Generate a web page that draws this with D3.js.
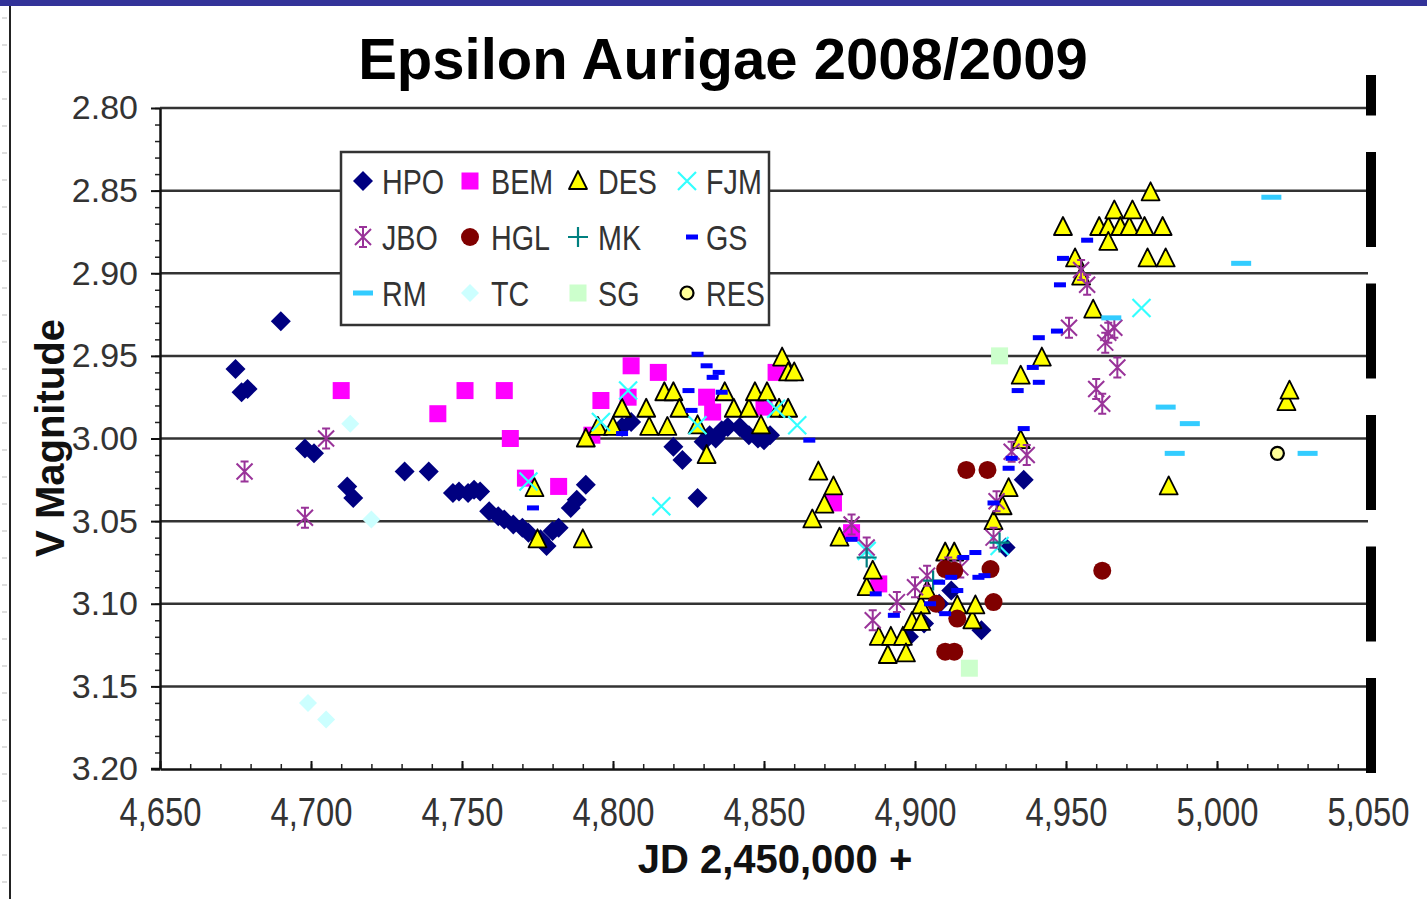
<!DOCTYPE html>
<html><head><meta charset="utf-8">
<script src="https://cdn.jsdelivr.net/npm/d3@7"></script>
<style>html,body{margin:0;padding:0;background:#fff;overflow:hidden}</style>
</head><body>
<svg id="chart" width="1427" height="899"></svg>
<script>
// ---------- data ----------
const chartTitle = "Epsilon Aurigae 2008/2009";
const xAxisTitle = "JD 2,450,000 +";
const yAxisTitle = "V Magnitude";
const xTickValues = [4650, 4700, 4750, 4800, 4850, 4900, 4950, 5000, 5050];
const yTickValues = [2.80, 2.85, 2.90, 2.95, 3.00, 3.05, 3.10, 3.15, 3.20];

const HPO = [[4675,2.958],[4677,2.972],[4679,2.970],[4690,2.929],[4698,3.006],[4701,3.009],[4712,3.029],[4714,3.036],[4731,3.020],[4739,3.020],
  [4747,3.033],[4749,3.032],[4752,3.033],[4754,3.031],[4756,3.032],[4759,3.044],[4762,3.047],[4764,3.049],[4767,3.052],[4770,3.054],[4772,3.057],[4776,3.061],[4778,3.065],[4780,3.056],[4782,3.054],[4786,3.042],[4788,3.037],[4791,3.028],
  [4803,2.993],[4806,2.990],[4820,3.005],[4823,3.013],[4828,3.036],[4830,3.002],[4832,2.998],[4834,3.000],[4836,2.995],[4838,2.993],[4842,2.993],[4845,2.998],[4848,3.000],[4850,3.001],[4852,2.998],
  [4898,3.120],[4903,3.112],[4908,3.100],[4912,3.092],[4922,3.116],[4930,3.066],[4936,3.025]];
const BEM = [[4710,2.971],[4742,2.985],[4751,2.971],[4764,2.971],[4766,3.000],[4771,3.024],[4782,3.029],[4793,2.998],[4796,2.977],[4805,2.975],[4806,2.956],[4815,2.960],[4831,2.975],[4833,2.984],[4850,2.981],[4854,2.960],[4873,3.039],[4879,3.057],[4888,3.088]];
const DES = [[4774,3.030],[4775,3.061],[4790,3.061],
  [4791,3.000],[4795,2.993],[4800,2.993],[4803,2.982],[4811,2.982],[4812,2.993],[4817,2.972],[4818,2.993],[4820,2.972],[4822,2.982],[4828,2.992],[4831,3.010],[4837,2.972],[4840,2.982],[4845,2.982],[4847,2.972],[4849,2.992],[4851,2.972],[4855,2.982],[4856,2.951],[4858,2.960],[4858,2.982],[4860,2.960],
  [4866,3.049],[4868,3.020],[4870,3.040],[4873,3.029],[4875,3.060],[4884,3.090],[4886,3.080],[4888,3.120],[4891,3.131],[4892,3.120],[4896,3.120],[4897,3.130],[4899,3.111],[4902,3.101],[4902,3.111],[4904,3.092],[4910,3.069],[4913,3.069],[4914,3.101],[4919,3.110],[4920,3.101],
  [4926,3.050],[4929,3.041],[4931,3.030],[4935,3.001],[4935,2.962],[4942,2.951],[4949,2.872],[4953,2.891],[4955,2.902],[4959,2.922],[4961,2.872],[4964,2.872],[4964,2.881],[4966,2.862],[4968,2.872],[4971,2.872],[4972,2.862],[4976,2.872],[4977,2.891],[4978,2.851],[4982,2.872],[4983,2.891],[4984,3.029],[5023,2.978],[5024,2.971]];
const FJM = [[4772,3.026],[4796,2.990],[4805,2.971],[4816,3.041],[4828,2.992],[4854,2.982],[4861,2.992],[4884,3.068],[4928,3.065],[4975,2.921]];
const JBO = [[4678,3.020],[4698,3.048],[4705,3.000],[4879,3.052],[4884,3.066],[4886,3.110],[4894,3.099],[4900,3.090],[4904,3.083],[4911,3.078],[4915,3.078],[4926,3.060],[4927,3.038],[4932,3.008],[4937,3.010],
  [4951,2.933],[4955,2.898],[4957,2.907],[4960,2.970],[4962,2.979],[4963,2.942],[4964,2.936],[4966,2.933],[4967,2.957]];
const HGL = [[4907,3.100],[4910,3.079],[4910,3.129],[4913,3.080],[4913,3.129],[4914,3.109],[4917,3.019],[4924,3.019],[4925,3.079],[4926,3.099],[4962,3.080]];
const MK = [[4884,3.072],[4906,3.086],[4928,3.063]];
const GS = [[4773.5,3.042],[4803,2.997],[4825,2.971],[4826,2.983],[4828,2.949],[4831,2.956],[4833,2.963],[4835,2.960],[4836,2.972],[4865,3.001],[4879,3.061],[4887,3.094],[4893,3.107],[4905,3.100],[4908,3.087],[4910,3.106],[4912,3.084],[4914,3.092],[4916,3.072],[4920,3.069],[4921,3.084],[4923,3.083],[4926,3.039],[4931,3.018],[4932,3.012],[4934,2.971],[4936,2.994],[4939,2.957],[4941,2.966],[4941,2.939],[4947,2.935],[4948,2.907],[4949,2.891],[4957,2.880]];
const RM = [[4965,2.927],[4983,2.981],[4986,3.009],[4991,2.991],[5008,2.894],[5018,2.854],[5030,3.009]];
const TC = [[4699,3.160],[4705,3.170],[4713,2.991],[4720,3.049]];
const SG = [[4918,3.139],[4928,2.950]];
const RES = [[5020,3.009]];

const seriesNames = ["HPO","BEM","DES","FJM","JBO","HGL","MK","GS","RM","TC","SG","RES"];
const seriesData = {HPO, BEM, DES, FJM, JBO, HGL, MK, GS, RM, TC, SG, RES};

// ---------- styling ----------
const styles = {
  HPO: {shape:"diamond", fill:"#000080", r:10},
  BEM: {shape:"square", fill:"#ff00ff", r:8.5},
  DES: {shape:"triangle", fill:"#ffff00", stroke:"#000"},
  FJM: {shape:"cross", stroke:"#33ffff"},
  JBO: {shape:"star", stroke:"#993399"},
  HGL: {shape:"circle", fill:"#800000", r:9},
  MK:  {shape:"plus", stroke:"#008080"},
  GS:  {shape:"dash", fill:"#0000ff", w:12, h:5},
  RM:  {shape:"dash", fill:"#33ccff", w:20, h:5},
  TC:  {shape:"diamond", fill:"#ccffff", r:9},
  SG:  {shape:"square", fill:"#ccffcc", r:8.5},
  RES: {shape:"circle", fill:"#ffff99", stroke:"#000", r:6.5}
};

const W = 1427, H = 899;
const svg = d3.select("#chart");
const x = d3.scaleLinear().domain([4650, 5050]).range([160, 1368]);
const y = d3.scaleLinear().domain([2.80, 3.20]).range([108, 769]);

function drawMarker(g, key) {
  const s = styles[key];
  switch (s.shape) {
    case "diamond":
      g.append("path").attr("d", `M0,${-s.r}L${s.r},0L0,${s.r}L${-s.r},0Z`).attr("fill", s.fill); break;
    case "square":
      g.append("rect").attr("x", -s.r).attr("y", -s.r).attr("width", 2*s.r).attr("height", 2*s.r).attr("fill", s.fill); break;
    case "triangle":
      g.append("path").attr("d", "M0,-10L9,8L-9,8Z").attr("fill", s.fill).attr("stroke", s.stroke).attr("stroke-width", 1.8).attr("stroke-linejoin","round"); break;
    case "cross":
      g.append("path").attr("d", "M-9,-9L9,9M-9,9L9,-9").attr("stroke", s.stroke).attr("stroke-width", 2.2).attr("fill","none"); break;
    case "star":
      g.append("path").attr("d", "M0,-11L0,11M-8,-8L8,8M-8,8L8,-8M-4,-10L4,-10M-4,10L4,10").attr("stroke", s.stroke).attr("stroke-width", 2).attr("fill","none"); break;
    case "plus":
      g.append("path").attr("d", "M0,-10L0,10M-10,0L10,0").attr("stroke", s.stroke).attr("stroke-width", 2.2).attr("fill","none"); break;
    case "circle":
      g.append("circle").attr("r", s.r).attr("fill", s.fill).attr("stroke", s.stroke || "none").attr("stroke-width", 2.2); break;
    case "dash":
      g.append("rect").attr("x", -s.w/2).attr("y", -s.h/2).attr("width", s.w).attr("height", s.h).attr("fill", s.fill); break;
  }
}

// top band and slide frame
svg.append("rect").attr("x",0).attr("y",0).attr("width",W).attr("height",6).attr("fill","#333399");
svg.append("line").attr("x1",10).attr("x2",10).attr("y1",6).attr("y2",H).attr("stroke","#222").attr("stroke-width",2);
svg.append("g").selectAll("line").data(d3.range(18, H, 27)).join("line")
  .attr("x1",2).attr("x2",7).attr("y1",d=>d).attr("y2",d=>d).attr("stroke","#bbb").attr("stroke-width",1);

// title
svg.append("text").attr("x",723).attr("y",79).attr("text-anchor","middle")
  .attr("font-family","'Liberation Sans', Arial, sans-serif").attr("font-weight","bold").attr("font-size",58)
  .attr("fill","#000").text(chartTitle);

// gridlines
svg.append("g").selectAll("line").data(yTickValues.slice(0, -1)).join("line")
  .attr("x1",160).attr("x2",1368).attr("y1",d=>y(d)).attr("y2",d=>y(d))
  .attr("stroke","#333").attr("stroke-width",2.5);

// y axis
const yMinor = d3.range(0, 41).map(i => 2.80 + i*0.01);
svg.append("g").attr("transform","translate(160,0)")
  .call(d3.axisLeft(y).tickValues(yMinor).tickSize(5).tickFormat(""))
  .call(g => g.select(".domain").remove())
  .call(g => g.selectAll("line").attr("stroke","#222").attr("stroke-width",1.5));
const yAxisG = svg.append("g").attr("transform","translate(160,0)")
  .call(d3.axisLeft(y).tickValues(yTickValues).tickSize(9).tickSizeOuter(0).tickPadding(13).tickFormat(d3.format(".2f")));
yAxisG.select(".domain").attr("stroke","#111").attr("stroke-width",2.5);
yAxisG.selectAll(".tick line").attr("stroke","#111").attr("stroke-width",2);
yAxisG.selectAll(".tick text").attr("font-family","'Liberation Sans', Arial, sans-serif").attr("font-size",34).attr("fill","#333");

// x axis
const xMinor = d3.range(4650, 5051, 10);
svg.append("g").attr("transform","translate(0,769)")
  .call(d3.axisBottom(x).tickValues(xMinor).tickSize(-5).tickFormat(""))
  .call(g => g.select(".domain").remove())
  .call(g => g.selectAll("line").attr("stroke","#222").attr("stroke-width",1.5));
const xAxisG = svg.append("g").attr("transform","translate(0,769)")
  .call(d3.axisBottom(x).tickValues(xTickValues).tickSize(-8).tickSizeOuter(0).tickPadding(0).tickFormat(d3.format(",")));
xAxisG.select(".domain").attr("stroke","#111").attr("stroke-width",2.5);
xAxisG.selectAll(".tick line").attr("stroke","#111").attr("stroke-width",2);
xAxisG.selectAll(".tick text").attr("y",57).attr("dy",0)
  .attr("font-family","'Liberation Sans', Arial, sans-serif").attr("font-size",41).attr("fill","#333")
  .attr("transform","scale(0.8,1)");
svg.append("line").attr("x1",151).attr("x2",160).attr("y1",769).attr("y2",769).attr("stroke","#111").attr("stroke-width",2.5);

// axis titles
svg.append("text").attr("x",775).attr("y",873).attr("text-anchor","middle")
  .attr("font-family","'Liberation Sans', Arial, sans-serif").attr("font-weight","bold").attr("font-size",40)
  .attr("fill","#111").text(xAxisTitle);
svg.append("text").attr("transform","translate(64,438) rotate(-90)").attr("text-anchor","middle")
  .attr("font-family","'Liberation Sans', Arial, sans-serif").attr("font-weight","bold").attr("font-size",40)
  .attr("fill","#111").text(yAxisTitle);

// thick dashed marker line at right edge
svg.append("line").attr("x1",1371).attr("x2",1371).attr("y1",773).attr("y2",75)
  .attr("stroke","#000").attr("stroke-width",10).attr("stroke-dasharray","95,36.5");

// data points
const plot = svg.append("g");
seriesNames.forEach(key => {
  plot.append("g").attr("class","series-"+key).selectAll("g").data(seriesData[key]).join("g")
    .attr("transform", d => `translate(${x(d[0])},${y(d[1])})`)
    .each(function(){ drawMarker(d3.select(this), key); });
});

// legend
const legend = svg.append("g");
legend.append("rect").attr("x",341).attr("y",152).attr("width",428).attr("height",173)
  .attr("fill","#fff").attr("stroke","#333").attr("stroke-width",2.5);
const colSym = [363, 470, 578, 687];
const colText = [382, 491, 598, 706];
const rowY = [181, 237, 293];
seriesNames.forEach((key, i) => {
  const c = i % 4, r = Math.floor(i / 4);
  const mg = legend.append("g").attr("transform", `translate(${colSym[c] + (key==="GS"?5:0)},${rowY[r]})`);
  drawMarker(mg, key);
  legend.append("g").attr("transform", `translate(${colText[c]},${rowY[r] + 12.5})`)
    .append("text").attr("transform","scale(0.82,1)")
    .attr("font-family","'Liberation Sans', Arial, sans-serif").attr("font-size",35).attr("fill","#333")
    .text(key);
});
</script>
</body></html>
